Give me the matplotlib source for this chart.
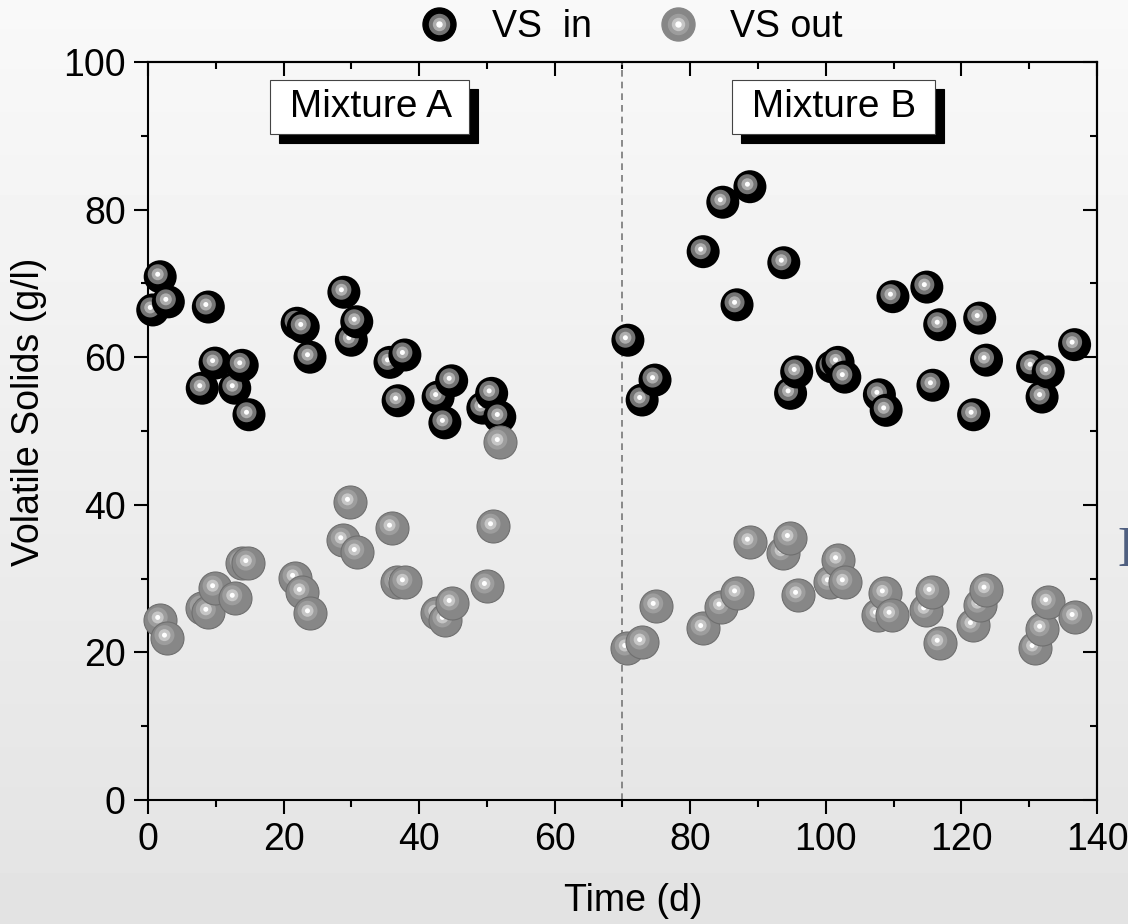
import numpy as np
import matplotlib
matplotlib.use("Agg")
import matplotlib.pyplot as plt
from matplotlib import transforms
from matplotlib.lines import Line2D
from matplotlib.legend_handler import HandlerTuple
from matplotlib.ticker import MultipleLocator

plt.rcParams['font.family'] = ['Liberation Sans', 'DejaVu Sans']

# VS in (black)
day_in = [0.7, 1.8, 3.0, 8.0, 8.9, 9.9, 12.8, 13.9, 14.9, 22.0, 22.9, 23.9,
          28.9, 30.0, 30.8, 35.7, 36.9, 37.9, 42.8, 43.8, 44.8, 49.4, 50.7, 51.9,
          70.8, 72.9, 74.8, 81.9, 84.8, 86.9, 88.8, 93.8, 94.8, 95.7, 100.9, 101.8,
          102.8, 107.9, 108.9, 109.9, 114.9, 115.8, 116.8, 121.8, 122.7, 123.7,
          130.5, 131.9, 132.8, 136.7]
vs_in = [66.4, 70.9, 67.5, 55.8, 66.8, 59.2, 55.8, 58.9, 52.2, 64.6, 64.1, 60.0,
         68.8, 62.3, 64.8, 59.3, 54.1, 60.3, 54.6, 51.1, 56.8, 53.1, 55.1, 51.9,
         62.3, 54.2, 56.9, 74.3, 81.0, 67.1, 83.1, 72.8, 55.1, 58.0, 58.7, 59.3,
         57.3, 54.9, 52.8, 68.2, 69.5, 56.2, 64.4, 52.2, 65.3, 59.6,
         58.7, 54.6, 58.0, 61.7]

# VS out (grey)
day_out = [1.8, 2.8, 8.0, 8.9, 9.9, 12.8, 13.9, 14.8, 21.7, 22.7, 23.9, 28.8,
           29.8, 30.8, 36.0, 36.7, 37.9, 42.6, 43.8, 44.8, 50.0, 50.9, 51.9,
           70.7, 72.9, 74.9, 81.9, 84.6, 86.9, 88.8, 93.7, 94.7, 95.9, 100.6,
           101.8, 102.8, 107.7, 108.7, 109.7, 114.8, 115.6, 116.8, 121.7, 122.7,
           123.7, 130.8, 131.9, 132.8, 136.7]
vs_out = [24.4, 22.0, 26.0, 25.5, 28.7, 27.4, 32.1, 32.1, 30.1, 28.2, 25.3, 35.2,
          40.4, 33.6, 36.9, 29.5, 29.5, 25.3, 24.4, 26.7, 29.0, 37.1, 48.5,
          20.6, 21.4, 26.3, 23.3, 26.2, 28.0, 35.0, 33.5, 35.5, 27.8, 29.5,
          32.5, 29.5, 25.1, 28.0, 25.1, 25.7, 28.2, 21.3, 23.7, 26.4,
          28.5, 20.6, 23.2, 26.8, 24.8]

switch_day = 70
labels = ["Mixture A", "Mixture B"]
label_x = [32.7, 101.2]

fig = plt.figure(figsize=(11.28, 9.24), dpi=100)

# background gradient
bg = fig.add_axes([0, 0, 1, 1], zorder=-10)
grad = np.linspace(0.975, 0.89, 256).reshape(-1, 1)
bg.imshow(grad, aspect='auto', cmap='gray', vmin=0, vmax=1, extent=[0, 1, 0, 1])
bg.axis('off')

ax = fig.add_axes([0.1312, 0.1342, 0.8413, 0.7987])
ax.set_facecolor('none')

# sphere-like markers, layers: (diameter px, color)
black_layers = [(33, '#000000'), (20, '#747474'), (12, '#aeaeae'), (5, '#ffffff')]
grey_layers = [(33, '#878787'), (20, '#9d9d9d'), (12, '#c6c6c6'), (5, '#ffffff')]
hl = transforms.offset_copy(ax.transData, fig=fig, x=-2.5, y=2.5, units='dots')


def sphere(x, y, layers, z):
    for i, (d, c) in enumerate(layers):
        s = (d * 0.72) ** 2
        tr = ax.transData if i == 0 else hl
        ec = '#6f6f6f' if (i == 0 and c != '#000000') else 'none'
        ax.scatter([x], [y], s=s, c=c, edgecolors=ec, linewidths=0.8,
                   transform=tr, zorder=z + i * 0.01, clip_on=False)


z = 3
for x, y in zip(day_in, vs_in):
    sphere(x, y, black_layers, z)
    z += 0.05
for x, y in zip(day_out, vs_out):
    sphere(x, y, grey_layers, z)
    z += 0.05

ax.axvline(switch_day, color='#777777', lw=1.2, ls=(0, (4, 3)), zorder=1)

ax.set_xlim(0, 140)
ax.set_ylim(0, 100)
ax.xaxis.set_major_locator(MultipleLocator(20))
ax.xaxis.set_minor_locator(MultipleLocator(10))
ax.yaxis.set_major_locator(MultipleLocator(20))
ax.yaxis.set_minor_locator(MultipleLocator(10))
ax.tick_params(which='both', direction='out', width=1.5, labelsize=27, pad=6)
ax.tick_params(which='major', length=10)
ax.tick_params(which='minor', length=5)
for sp in ax.spines.values():
    sp.set_linewidth(1.5)

top = ax.secondary_xaxis('top')
top.xaxis.set_major_locator(MultipleLocator(20))
top.xaxis.set_minor_locator(MultipleLocator(10))
top.tick_params(which='both', direction='in', width=1.5, labeltop=False)
top.tick_params(which='major', length=10)
top.tick_params(which='minor', length=5)
top.spines['top'].set_linewidth(1.5)

right = ax.secondary_yaxis('right')
right.yaxis.set_major_locator(MultipleLocator(20))
right.yaxis.set_minor_locator(MultipleLocator(10))
right.tick_params(which='both', direction='in', width=1.5, labelright=False)
right.tick_params(which='major', length=10)
right.tick_params(which='minor', length=5)
right.spines['right'].set_linewidth(1.5)

ax.set_xlabel("Time (d)", fontsize=27)
ax.set_ylabel("Volatile Solids (g/l)", fontsize=27)
ax.xaxis.set_label_coords(0.511, -0.112)
ax.yaxis.set_label_coords(-0.106, 0.526)

# Mixture labels with drop shadow
shadow = transforms.offset_copy(ax.transData, fig=fig, x=9, y=-9, units='dots')
for lx, lab in zip(label_x, labels):
    ax.text(lx, 93.9, " " + lab + " ", fontsize=28, ha='center', va='center', color='black',
            zorder=20, bbox=dict(boxstyle='square,pad=0.22', fc='white', ec='#444444', lw=0.8))
    ax.text(lx, 93.9, " " + lab + " ", fontsize=28, ha='center', va='center', color='black',
            transform=shadow, zorder=19,
            bbox=dict(boxstyle='square,pad=0.22', fc='black', ec='black', lw=0.8))

# legend
h_in = tuple(Line2D([], [], ls='none', marker='o', ms=d * 0.72, mfc=c, mec=c)
             for d, c in black_layers)
h_out = tuple(Line2D([], [], ls='none', marker='o', ms=d * 0.72, mfc=c, mec=c)
              for d, c in grey_layers)
fig.legend([h_in, h_out], ["VS  in", "VS out"], loc='center',
           bbox_to_anchor=(0.555, 0.971), ncol=2, frameon=False, fontsize=27,
           handler_map={tuple: HandlerTuple(ndivide=1, pad=0)},
           columnspacing=1.5, handletextpad=0.6, handlelength=1.6)

# cropped glyph at right edge
fig.text(1117 / 1128, 1 - 552 / 924, "E", fontsize=40, family='Liberation Serif',
         color='#4f5f80', ha='left', va='center')

fig.savefig("out.png", dpi=100)
